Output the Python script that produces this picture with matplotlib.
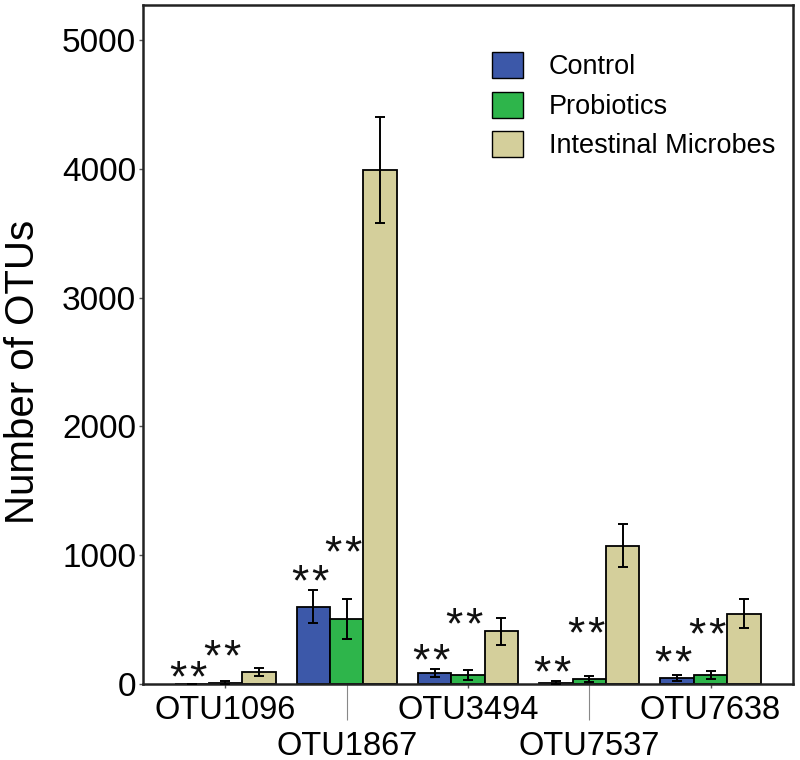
import matplotlib
matplotlib.use("Agg")
import matplotlib.pyplot as plt
from matplotlib.patches import Patch
import numpy as np

plt.rcParams['font.family'] = ['Liberation Sans', 'DejaVu Sans']
plt.rcParams['mathtext.fontset'] = 'custom'
plt.rcParams['mathtext.rm'] = 'Liberation Sans'

otus = ["OTU1096", "OTU1867", "OTU3494", "OTU7537", "OTU7638"]
groups = ["Control", "Probiotics", "Intestinal Microbes"]
control = [0, 600, 83, 10, 46]
control_err = [0, 130, 30, 10, 20]
probiotics = [10, 504, 70, 39, 72]
probiotics_err = [12, 158, 38, 25, 30]
microbes = [91, 3990, 411, 1075, 547]
microbes_err = [30, 410, 105, 165, 115]
colors = ["#3c58a9", "#2eb54b", "#d4cf9b"]
sig_label = r"$\mathrm{*}\hspace{0.08}\mathrm{*}$"
# significance marks: offset (points above error-bar top)
star_off_control = [4, 5, 5.3, 5.5, 8.5]
star_off_prob = [16.5, 32.5, 31.5, 29.5, 25.5]

fig = plt.figure(figsize=(8, 7.6), dpi=100)
ax = fig.add_axes([143/800, 1-684/760, 650/800, 679/760])

x = np.arange(len(otus))
w = 0.276
series = [(control, control_err), (probiotics, probiotics_err), (microbes, microbes_err)]
for i, (vals, errs) in enumerate(series):
    xs = x + (i - 1) * w
    ax.bar(xs, vals, width=w, color=colors[i], edgecolor="black", linewidth=1.3, zorder=2)
    ax.errorbar(xs, vals, yerr=errs, fmt="none", ecolor="black", elinewidth=1.4,
                capsize=3.5, capthick=1.4, zorder=3)

for j in range(len(otus)):
    for i, (vals, errs, offs) in enumerate([(control, control_err, star_off_control),
                                             (probiotics, probiotics_err, star_off_prob)]):
        xs = x[j] + (i - 1) * w - 0.025
        ax.annotate(sig_label, xy=(xs, vals[j] + errs[j]), xytext=(0, offs[j]),
                    textcoords="offset points", ha="center", va="center",
                    fontsize=32, color="#111111")

ax.set_xlim(-0.68, 4.68)
ax.set_ylim(0, 5272)
ax.set_yticks([0, 1000, 2000, 3000, 4000, 5000])
ax.tick_params(axis="y", labelsize=24, length=3, width=1, color="#555555", pad=2)

ax.set_xticks(x[::2])
ax.set_xticklabels(otus[::2])
ax.set_xticks(x[1::2], minor=True)
ax.set_xticklabels(otus[1::2], minor=True)
ax.tick_params(axis="x", which="major", labelsize=23.5, length=3, width=1, color="#555555", pad=5)
ax.tick_params(axis="x", which="minor", labelsize=23.5, length=26, width=0.8, color="#888888", pad=7.5)

for s in ax.spines.values():
    s.set_linewidth(1.8)
    s.set_color("#222222")

ax.set_ylabel("Number of OTUs", fontsize=29, labelpad=14)
ax.yaxis.label.set_y((684 - 372) / 679)

handles = [Patch(facecolor=c, edgecolor="black", linewidth=1.0) for c in colors]
fig.legend(handles, groups, loc="upper left", bbox_to_anchor=(492/800, 1-52/760),
           frameon=False, fontsize=19.5, handlelength=1.14, handleheight=1.1,
           handletextpad=0.95, labelspacing=0.42, borderpad=0, borderaxespad=0)

fig.savefig("out.png", dpi=100)
